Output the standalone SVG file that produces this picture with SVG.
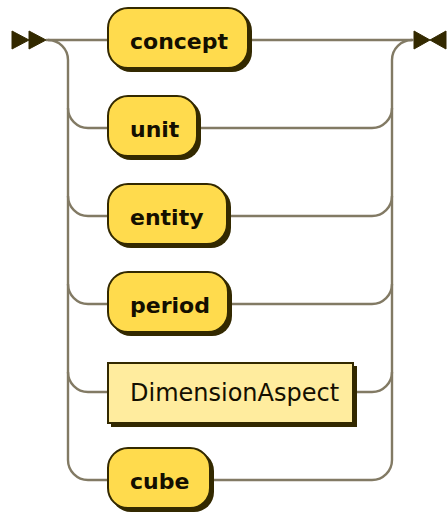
<svg xmlns="http://www.w3.org/2000/svg" width="448" height="514" viewBox="0 0 448 514">
  <defs>
    <style>
      .line { fill: none; stroke: #827a64; stroke-width: 2.4; }
      .mark { fill: #332900; stroke: #332900; stroke-width: 1; stroke-linejoin: round; }
      .shadow { fill: #332900; }
      .terminal { fill: #FFDB4D; stroke: #332900; stroke-width: 2; }
      .nonterminal { fill: #FFEC9E; stroke: #332900; stroke-width: 2; }
      .tt { font-family: "DejaVu Sans", Verdana, sans-serif; font-weight: bold; font-size: 22px; fill: #140f00; }
      .nt { font-family: "DejaVu Sans", Verdana, sans-serif; font-size: 24px; fill: #140f00; }
    </style>
  </defs>
  <rect width="448" height="514" fill="#ffffff"/>

  <!-- rails, branches and end markers -->
  <g id="connectors">
    <polygon class="mark" points="12,31 12,49 29,40"/>
    <polygon class="mark" points="29,31 29,49 46,40"/>
    <polygon class="mark" points="414,31 414,49 430,40"/>
    <polygon class="mark" points="446,31 446,49 430,40"/>

    <!-- straight path through concept -->
    <path class="line" d="M46 40 H108 M248 40 H414"/>

    <!-- left rail and branch entries -->
    <path class="line" d="M48 40 a20 20 0 0 1 20 20 V460"/>
    <path class="line" d="M68 108 a20 20 0 0 0 20 20 H108"/>
    <path class="line" d="M68 196 a20 20 0 0 0 20 20 H108"/>
    <path class="line" d="M68 284 a20 20 0 0 0 20 20 H108"/>
    <path class="line" d="M68 372 a20 20 0 0 0 20 20 H108"/>
    <path class="line" d="M68 460 a20 20 0 0 0 20 20 H108"/>

    <!-- right rail and branch exits -->
    <path class="line" d="M412 40 a20 20 0 0 0 -20 20 V460"/>
    <path class="line" d="M197 128 H372 a20 20 0 0 0 20 -20"/>
    <path class="line" d="M227 216 H372 a20 20 0 0 0 20 -20"/>
    <path class="line" d="M228 304 H372 a20 20 0 0 0 20 -20"/>
    <path class="line" d="M353 392 H372 a20 20 0 0 0 20 -20"/>
    <path class="line" d="M210 480 H372 a20 20 0 0 0 20 -20"/>
  </g>

  <g id="concept">
    <rect class="shadow" x="111" y="11" width="141" height="61" rx="20"/>
    <rect class="terminal" x="108" y="8" width="140" height="60" rx="20"/>
    <text class="tt" x="130" y="48.5">concept</text>
  </g>

  <g id="unit">
    <rect class="shadow" x="111" y="99" width="90" height="61" rx="20"/>
    <rect class="terminal" x="108" y="96" width="89" height="60" rx="20"/>
    <text class="tt" x="130" y="136.5">unit</text>
  </g>

  <g id="entity">
    <rect class="shadow" x="111" y="187" width="120" height="61" rx="20"/>
    <rect class="terminal" x="108" y="184" width="119" height="60" rx="20"/>
    <text class="tt" x="130" y="224.5">entity</text>
  </g>

  <g id="period">
    <rect class="shadow" x="111" y="275" width="121" height="61" rx="20"/>
    <rect class="terminal" x="108" y="272" width="120" height="60" rx="20"/>
    <text class="tt" x="130" y="312.5">period</text>
  </g>

  <g id="DimensionAspect">
    <rect class="shadow" x="111" y="366" width="246" height="61"/>
    <rect class="nonterminal" x="108" y="363" width="245" height="60"/>
    <text class="nt" x="130" y="400.5">DimensionAspect</text>
  </g>

  <g id="cube">
    <rect class="shadow" x="111" y="451" width="103" height="61" rx="20"/>
    <rect class="terminal" x="108" y="448" width="102" height="60" rx="20"/>
    <text class="tt" x="130" y="488.5">cube</text>
  </g>
</svg>
